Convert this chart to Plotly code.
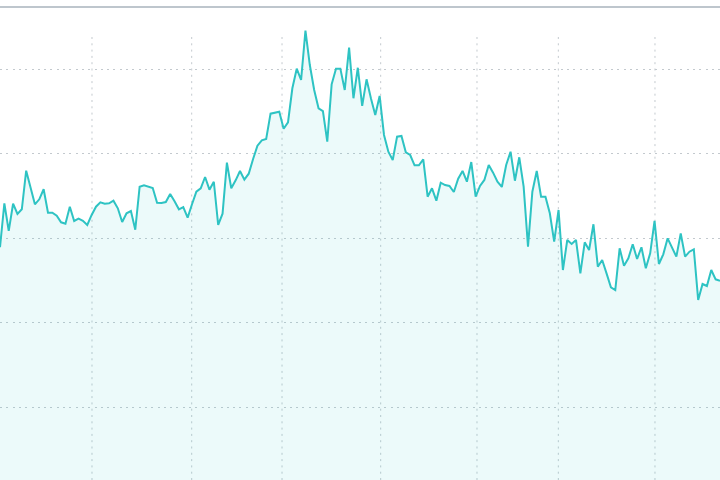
import plotly.graph_objects as go

# Series values (trading-day index -> price)
values_part1 = [28.92, 34.12, 30.85, 34.07, 32.86, 33.41, 37.98, 36.08, 34.00, 34.59,
                35.78, 33.01, 33.01, 32.65, 31.87, 31.71, 33.72, 32.03, 32.30, 32.06,
                31.56, 32.74, 33.72, 34.24, 34.07, 34.12, 34.43, 33.53, 31.91, 32.94,
                33.21, 31.00, 36.08, 36.25, 36.13, 35.93, 34.19, 34.16, 34.27, 35.22,
                34.36, 33.41]
values_part2 = [33.68, 32.42, 34.00, 35.49, 35.89, 37.23, 35.73, 36.67, 31.56, 32.89,
                38.92, 35.89, 36.84, 37.94, 36.91, 37.62, 39.36, 40.93, 41.57, 41.72,
                44.72, 44.80, 44.95, 42.94, 43.70, 47.72, 50.04, 48.70, 54.53, 50.47,
                47.52, 45.35, 45.03, 41.40, 48.19, 50.04, 50.04, 47.52, 52.52, 46.54,
                50.15]
values_part3 = [45.63, 48.78, 46.54, 44.56, 46.81, 42.20, 40.22, 39.24, 42.00, 42.08,
                40.15, 39.83, 38.61, 38.61, 39.32, 34.90, 35.89, 34.43, 36.56, 36.28,
                36.17, 35.46, 37.03, 37.94, 36.67, 39.00, 34.90, 36.17, 36.88, 38.65,
                37.74, 36.67, 36.05, 38.65, 40.22, 36.79, 39.56, 36.08, 28.99, 35.49,
                37.94]
values_part4 = [34.90, 34.90, 32.94, 29.58, 33.33, 26.23, 29.78, 29.31, 29.78, 25.84,
                29.51, 28.60, 31.64, 26.62, 27.42, 25.84, 24.19, 23.87, 28.80, 26.74,
                27.62, 29.27, 27.54, 28.92, 26.44, 28.21, 32.03, 26.94, 28.09, 29.98,
                28.99, 27.81, 30.57, 27.81, 28.40, 28.68, 22.69, 24.58, 24.34, 26.23,
                25.13, 24.97]

values = values_part1 + values_part2 + values_part3 + values_part4
days = list(range(len(values)))

# Month boundaries (in trading-day index) used for vertical grid lines
month_ticks = [21.08, 43.93, 64.63, 87.24, 109.31, 127.95, 150.10]
# Horizontal grid values
price_ticks = [10, 20, 30, 40, 50]

LINE = "#2EC3C3"
GRID = "#c3c9ce"
DASH = "2px,4.3px"

fig = go.Figure()
fig.add_trace(go.Scatter(
    x=days, y=values, mode="lines",
    line=dict(color=LINE, width=2),
    fill="tozeroy", fillcolor="rgba(46,195,195,0.09)",
    hoverinfo="skip",
))

shapes = []
for t in month_ticks:
    shapes.append(dict(type="line", xref="x", yref="paper", x0=t, x1=t,
                       y0=0, y1=(480 - 33) / 480, layer="below",
                       line=dict(color=GRID, width=1, dash=DASH)))
shapes.append(dict(type="line", xref="paper", yref="paper", x0=0, x1=1,
                   y0=(480 - 7) / 480, y1=(480 - 7) / 480,
                   line=dict(color="#a9b3bc", width=1.5)))

fig.update_layout(
    width=720, height=480,
    margin=dict(l=0, r=0, t=0, b=0),
    paper_bgcolor="white", plot_bgcolor="white",
    showlegend=False,
    shapes=shapes,
    xaxis=dict(range=[0, len(values) - 1], showgrid=False, zeroline=False,
               showticklabels=False, showline=False, fixedrange=True),
    yaxis=dict(range=[1.40, 58.16], tickvals=price_ticks, showgrid=True,
               gridcolor=GRID, gridwidth=1, griddash=DASH, zeroline=False,
               showticklabels=False, showline=False, fixedrange=True),
)

fig.write_html("out.html", config={"displayModeBar": False},
               post_script="document.body.style.margin='0';")
